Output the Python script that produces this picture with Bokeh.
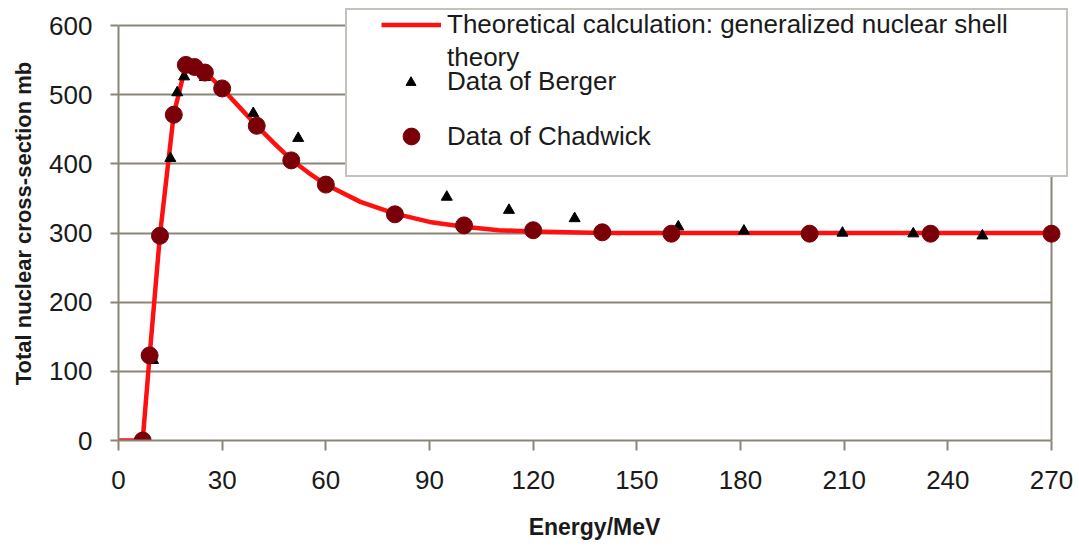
from bokeh.plotting import figure
from bokeh.models import Range1d, Legend, LegendItem, FixedTicker, Grid
from bokeh.embed import file_html
from bokeh.resources import INLINE

# ---- data ----
theory_energy = [0, 7, 9, 12, 16, 19.5, 22, 25, 30, 35, 40, 45, 50, 55, 60, 70, 80, 90, 100, 110, 120, 140, 160, 200, 270]
theory_sigma = [0, 0, 122, 297, 472, 543, 541, 533, 509, 482, 455, 430, 406, 387, 370, 345, 328, 316, 309, 304, 302, 300, 300, 300, 300]

chadwick_energy = [7, 9, 12, 16, 19.5, 22, 25, 30, 40, 50, 60, 80, 100, 120, 140, 160, 200, 235, 270]
chadwick_sigma = [0, 123, 296, 471, 543, 540, 532, 509, 455, 405, 370, 327, 311, 304, 301, 299, 299, 299, 299]

berger_energy = [10, 15, 17, 19, 25, 39, 52, 95, 113, 132, 162, 181, 209.5, 230, 250]
berger_sigma = [116, 408, 503, 526, 525, 473, 437, 352, 333, 321, 309, 303, 300, 299, 296]

x_ticks = [0, 30, 60, 90, 120, 150, 180, 210, 240, 270]
y_ticks = [0, 100, 200, 300, 400, 500, 600]
x_max = 270
y_max = 600

label_theory_1 = "Theoretical calculation: generalized nuclear shell"
label_theory_2 = "theory"
label_berger = "Data of Berger"
label_chadwick = "Data of Chadwick"
x_title = "Energy/MeV"
y_title = "Total nuclear cross-section mb"

FONT = "Liberation Sans"
TXT = "#1a1a1a"
GRID = "#8a8577"

# plot area: x 0..270 -> px 118..1051, y 0..600 -> px 440..25
# the frame is made a little larger (to 1070 / 6) so the legend box can overhang
x_scale = (1051 - 118) / x_max
y_scale = (440 - 25) / y_max
x_end = (1070 - 118) / x_scale
y_end = (440 - 6) / y_scale

p = figure(width=1079, height=548, output_backend="svg", toolbar_location=None,
           x_range=Range1d(0, x_end), y_range=Range1d(0, y_end),
           min_border_left=118, min_border_right=9, min_border_top=6, min_border_bottom=108)
p.background_fill_color = "white"
p.border_fill_color = "white"
p.outline_line_color = None

p.xgrid.visible = False
p.ygrid.ticker = FixedTicker(ticks=y_ticks)
p.ygrid.grid_line_color = GRID
p.ygrid.grid_line_width = 2
p.ygrid.cross_bounds = (0, x_max)

# right border of the plot area (a single vertical grid line at x_max)
p.add_layout(Grid(dimension=0, ticker=FixedTicker(ticks=[x_max]), cross_bounds=(0, y_max),
                  grid_line_color=GRID, grid_line_width=2))

for ax, ticks, bnd in ((p.xaxis[0], x_ticks, (0, x_max)), (p.yaxis[0], y_ticks, (0, y_max))):
    ax.ticker = FixedTicker(ticks=ticks)
    ax.bounds = bnd
    ax.axis_line_color = GRID
    ax.axis_line_width = 2
    ax.major_tick_line_color = GRID
    ax.major_tick_line_width = 2
    ax.major_tick_in = 0
    ax.minor_tick_line_color = None
    ax.major_label_text_font = FONT
    ax.major_label_text_font_size = "26px"
    ax.major_label_text_color = TXT
    ax.axis_label_text_font = FONT
    ax.axis_label_text_font_style = "bold"
    ax.axis_label_text_color = TXT

p.xaxis.major_tick_out = 10
p.xaxis.major_label_standoff = 20
p.xaxis.axis_label = x_title
p.xaxis.axis_label_text_font_size = "23px"
p.xaxis.axis_label_standoff = 22

p.yaxis.major_tick_out = 8
p.yaxis.major_label_standoff = 18
p.yaxis.axis_label = y_title
p.yaxis.axis_label_text_font_size = "22px"
p.yaxis.axis_label_standoff = 10

# ---- series ----
theory = p.line(theory_energy, theory_sigma, line_color="#ff1010", line_width=4.5)
berger = p.scatter(berger_energy, berger_sigma, marker="triangle", size=11,
                   fill_color="black", line_color="black")
chadwick = p.scatter(chadwick_energy, chadwick_sigma, marker="circle", size=17,
                     fill_color="#7a0008", line_color="#7a0008")
ghost = p.line(theory_energy, theory_sigma, line_alpha=0)

# ---- legend (box + separately placed entries) ----
def make_legend(items, loc, gw, gh, standoff, lh, lw=20, box=False):
    lg = Legend(items=items, location=loc, orientation="vertical",
                glyph_width=gw, glyph_height=gh, label_standoff=standoff,
                label_height=lh, label_width=lw, spacing=0, padding=0, margin=0,
                label_text_font=FONT, label_text_font_size="26px", label_text_color=TXT)
    if box:
        lg.border_line_color = GRID
        lg.border_line_width = 2
        lg.background_fill_color = "white"
        lg.background_fill_alpha = 1
    else:
        lg.border_line_alpha = 0
        lg.background_fill_alpha = 0
    return lg

box = make_legend([LegendItem(label=" ", renderers=[ghost])], (227, 263), 1, 1, 0, 165, lw=718, box=True)
leg_theory = make_legend([LegendItem(label=label_theory_1, renderers=[theory]),
                          LegendItem(label=label_theory_2, renderers=[ghost])],
                         (263, 366), 60, 33, 6, 33)
leg_berger = make_legend([LegendItem(label=label_berger, renderers=[berger])],
                         (280, 343), 25, 30, 24, 30)
leg_chadwick = make_legend([LegendItem(label=label_chadwick, renderers=[chadwick])],
                           (272, 283), 42, 42, 15, 42)

for lg in (box, leg_theory, leg_berger, leg_chadwick):
    p.add_layout(lg)

open("out.html", "w").write(file_html(p, INLINE))
